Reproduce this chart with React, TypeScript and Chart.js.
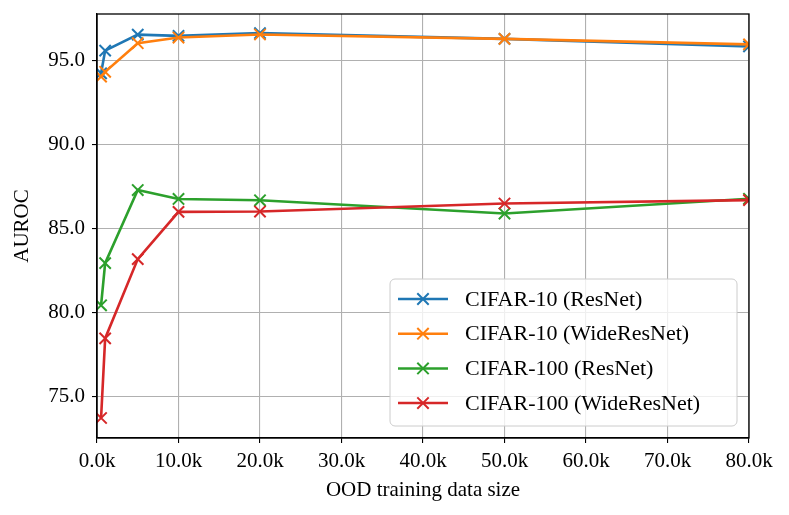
import React, { useEffect, useRef } from 'react';
import { Chart, registerables } from 'chart.js';

Chart.register(...registerables);

// OOD training data size (samples)
const sizes = [500, 1000, 5000, 10000, 20000, 50000, 80000];

const cifar10ResNet = [94.25, 95.6, 96.55, 96.48, 96.64, 96.3, 95.85];
const cifar10WideResNet = [94.05, 94.34, 96.04, 96.38, 96.56, 96.3, 95.97];
const cifar100ResNet = [80.44, 82.95, 87.3, 86.77, 86.69, 85.9, 86.78];
const cifar100WideResNet = [73.73, 78.47, 83.19, 86.0, 86.02, 86.5, 86.7];

const seriesNames = [
    'CIFAR-10 (ResNet)',
    'CIFAR-10 (WideResNet)',
    'CIFAR-100 (ResNet)',
    'CIFAR-100 (WideResNet)',
];
const seriesColors = ['#1f77b4', '#ff7f0e', '#2ca02c', '#d62728'];

const yTickStep = 5;
const FONT = '"Liberation Serif", "Times New Roman", serif';

const frameAndLegend = {
    id: 'frameAndLegend',
    afterDatasetsDraw(chart: any) {
        const { ctx, chartArea } = chart;
        ctx.save();
        ctx.strokeStyle = '#000';
        ctx.lineWidth = 1.3;
        ctx.strokeRect(chartArea.left, chartArea.top, chartArea.right - chartArea.left, chartArea.bottom - chartArea.top);
        ctx.restore();
    },
    afterDraw(chart: any) {
        const { ctx, chartArea } = chart;
        const w = 347;
        const h = 147;
        const x0 = chartArea.right - 12 - w;
        const y0 = chartArea.bottom - 12 - h;
        ctx.save();
        ctx.beginPath();
        ctx.roundRect(x0, y0, w, h, 5);
        ctx.fillStyle = 'rgba(255,255,255,0.8)';
        ctx.fill();
        ctx.strokeStyle = '#cccccc';
        ctx.lineWidth = 1;
        ctx.stroke();
        chart.data.datasets.forEach((ds: any, i: number) => {
            const cy = y0 + 20 + i * 34.7;
            const cx = x0 + 33;
            ctx.strokeStyle = ds.borderColor;
            ctx.lineWidth = 2.5;
            ctx.beginPath();
            ctx.moveTo(x0 + 8, cy);
            ctx.lineTo(x0 + 58, cy);
            ctx.stroke();
            const d = 5.7;
            ctx.lineWidth = 2;
            ctx.beginPath();
            ctx.moveTo(cx - d, cy - d);
            ctx.lineTo(cx + d, cy + d);
            ctx.moveTo(cx - d, cy + d);
            ctx.lineTo(cx + d, cy - d);
            ctx.stroke();
            ctx.fillStyle = '#000';
            ctx.font = `22px ${FONT}`;
            ctx.textBaseline = 'middle';
            ctx.fillText(ds.label, x0 + 75, cy + 1);
        });
        ctx.restore();
    },
};

const App: React.FC = () => {
    const chartRef = useRef<HTMLCanvasElement | null>(null);
    const chartInstanceRef = useRef<Chart | null>(null);

    useEffect(() => {
        document.body.style.margin = '0';
        if (chartRef.current) {
            if (chartInstanceRef.current) {
                chartInstanceRef.current.destroy();
            }
            const ctx = chartRef.current.getContext('2d');
            if (ctx) {
                const allSeries = [cifar10ResNet, cifar10WideResNet, cifar100ResNet, cifar100WideResNet];
                chartInstanceRef.current = new Chart(ctx, {
                    type: 'line',
                    data: {
                        datasets: allSeries.map((values, i) => ({
                            label: seriesNames[i],
                            data: values.map((v, j) => ({ x: sizes[j], y: v })),
                            borderColor: seriesColors[i],
                            backgroundColor: seriesColors[i],
                            borderWidth: 2.6,
                            pointStyle: 'crossRot',
                            pointRadius: 8,
                            pointBorderWidth: 2,
                            pointHoverRadius: 8,
                            tension: 0,
                            fill: false,
                            order: 4 - i,
                        })),
                    },
                    options: {
                        responsive: false,
                        animation: false,
                        layout: { padding: { left: 0, right: 40, top: 14, bottom: 0 } },
                        plugins: {
                            legend: { display: false },
                            tooltip: { enabled: false },
                        },
                        scales: {
                            x: {
                                type: 'linear',
                                min: 0,
                                max: 80000,
                                ticks: {
                                    stepSize: 10000,
                                    color: '#000',
                                    padding: 6,
                                    maxRotation: 0,
                                    font: { family: FONT, size: 21 },
                                    callback: (v: any) => (Number(v) / 1000).toFixed(1) + 'k',
                                },
                                grid: { color: '#b0b0b0', lineWidth: 1.1, tickColor: '#000', tickLength: 5 },
                                border: { display: true, color: '#000', width: 1.3 },
                                title: {
                                    display: true,
                                    text: 'OOD training data size',
                                    color: '#000',
                                    font: { family: FONT, size: 21 },
                                    padding: { top: 0, bottom: 12 },
                                },
                                afterFit: (scale: any) => {
                                    scale.height = 77;
                                    scale.paddingLeft = 0;
                                    scale.paddingRight = 0;
                                },
                            },
                            y: {
                                type: 'linear',
                                min: 72.54,
                                max: 97.78,
                                ticks: {
                                    stepSize: yTickStep,
                                    color: '#000',
                                    padding: 7,
                                    font: { family: FONT, size: 21 },
                                    callback: (v: any) => Number(v).toFixed(1),
                                },
                                afterBuildTicks: (scale: any) => {
                                    scale.ticks = scale.ticks.filter((t: any) => Math.abs(t.value / yTickStep - Math.round(t.value / yTickStep)) < 1e-6);
                                },
                                grid: { color: '#b0b0b0', lineWidth: 1.1, tickColor: '#000', tickLength: 5 },
                                border: { display: true, color: '#000', width: 1.3 },
                                title: {
                                    display: true,
                                    text: 'AUROC',
                                    color: '#000',
                                    font: { family: FONT, size: 21 },
                                    padding: { top: 10, bottom: 0 },
                                },
                                afterFit: (scale: any) => {
                                    scale.width = 97;
                                    scale.paddingTop = 0;
                                    scale.paddingBottom = 0;
                                },
                            },
                        },
                    },
                    plugins: [frameAndLegend],
                });
            }
        }
        return () => {
            if (chartInstanceRef.current) {
                chartInstanceRef.current.destroy();
                chartInstanceRef.current = null;
            }
        };
    }, []);

    return (
        <div style={{ width: 789, height: 515, background: '#fff' }}>
            <canvas ref={chartRef} width={789} height={515} />
        </div>
    );
};

export default App;
